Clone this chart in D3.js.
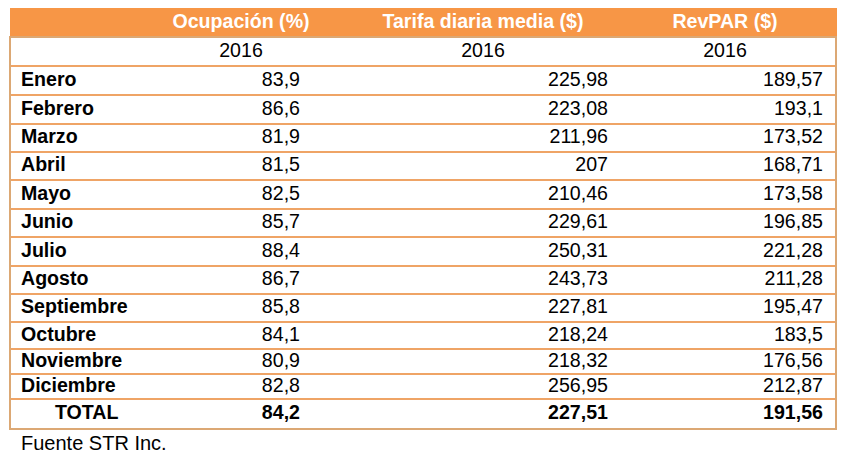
<!DOCTYPE html>
<html><head><meta charset="utf-8">
<script src="https://cdn.jsdelivr.net/npm/d3@7"></script>
<style>body{margin:0;background:#fff}svg{display:block}</style>
</head><body>
<script>
// ---- data ----
const headers = ["Ocupación (%)", "Tarifa diaria media ($)", "RevPAR ($)"];
const yearLabel = "2016";
const months = ["Enero","Febrero","Marzo","Abril","Mayo","Junio","Julio","Agosto","Septiembre","Octubre","Noviembre","Diciembre"];
const ocupacion = [83.9,86.6,81.9,81.5,82.5,85.7,88.4,86.7,85.8,84.1,80.9,82.8];
const tarifa = [225.98,223.08,211.96,207,210.46,229.61,250.31,243.73,227.81,218.24,218.32,256.95];
const revpar = [189.57,193.1,173.52,168.71,173.58,196.85,221.28,211.28,195.47,183.5,176.56,212.87];
const totalLabel = "TOTAL";
const totals = [84.2, 227.51, 191.56];
const source = "Fuente STR Inc.";

// ---- layout ----
const W = 846, H = 464;
const left = 10, right = 837;
const headTop = 8, headBottom = 37;
const rowBounds = [37, 66, 95, 124, 152, 180, 209, 237, 266, 294, 322, 349, 374, 399, 429];
const colCenters = [241, 483, 725];
const colRights = [300, 608, 823];
const font = "Arial, 'Liberation Sans', sans-serif";
const fs = 19.6;
const fmt = v => String(v).replace(".", ",");

const svg = d3.select("body").append("svg").attr("width", W).attr("height", H);

// header
svg.append("rect").attr("x", left).attr("y", headTop).attr("width", right - left).attr("height", headBottom - headTop)
  .attr("fill", "#F79646");
svg.selectAll("text.hdr").data(headers).join("text").attr("class","hdr")
  .attr("x", (d,i) => colCenters[i]).attr("y", (headTop + headBottom)/2 + 5)
  .attr("text-anchor","middle").attr("fill","#fff").attr("font-weight","bold")
  .attr("font-family", font).attr("font-size", fs).text(d => d);

// rows
const rows = [{label:"", vals: headers.map(() => yearLabel), year:true}]
  .concat(months.map((m,i) => ({label:m, vals:[ocupacion[i], tarifa[i], revpar[i]].map(fmt)})))
  .concat([{label: totalLabel, vals: totals.map(fmt), total:true}]);

// row lines
svg.selectAll("line.row").data(rowBounds.slice(1, -1)).join("line").attr("class","row")
  .attr("x1", left).attr("x2", right).attr("y1", d => d).attr("y2", d => d)
  .attr("stroke", "#EFA466").attr("stroke-width", 2);

// outer border of body
svg.append("rect").attr("x", left).attr("y", rowBounds[0]).attr("width", right - left - 1)
  .attr("height", rowBounds[rowBounds.length-1] - rowBounds[0])
  .attr("fill","none").attr("stroke","#DCA874").attr("stroke-width", 2);

const g = svg.selectAll("g.r").data(rows).join("g").attr("class","r")
  .attr("transform", (d,i) => `translate(0,${(rowBounds[i] + rowBounds[i+1])/2 + 5})`);

g.append("text").attr("x", d => d.total ? 55 : 21).attr("y", 0)
  .attr("font-family", font).attr("font-size", fs).attr("font-weight","bold").attr("fill","#000")
  .text(d => d.label);

g.selectAll("text.v").data(d => d.vals.map(v => ({v, year:d.year, total:d.total}))).join("text").attr("class","v")
  .attr("x", (d,i) => d.year ? colCenters[i] : colRights[i])
  .attr("text-anchor", d => d.year ? "middle" : "end")
  .attr("font-family", font).attr("font-size", fs)
  .attr("font-weight", d => d.total ? "bold" : "normal").attr("fill","#000")
  .text(d => d.v);

svg.append("text").attr("x", 21).attr("y", 450).attr("font-family", font).attr("font-size", 20)
  .attr("fill","#000").text(source);
</script>
</body></html>
